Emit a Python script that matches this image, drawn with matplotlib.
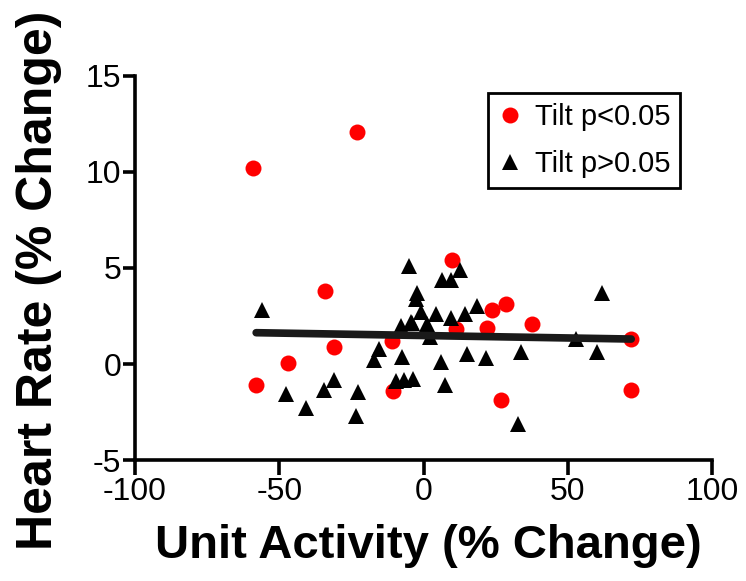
import matplotlib
matplotlib.use("Agg")
import matplotlib.pyplot as plt
import numpy as np

plt.rcParams['font.family'] = ['Liberation Sans', 'DejaVu Sans']
plt.rcParams['axes.unicode_minus'] = False

# Data
red_x = [-59, -23, -34, -31, -47, -58, -11, -10.5, 10, 23.6, 28.5, 37.6, 11.2, 22.1, 71.9, 71.8, 27.0]
red_y = [10.2, 12.1, 3.8, 0.9, 0.05, -1.1, 1.2, -1.4, 5.4, 2.8, 3.1, 2.1, 1.8, 1.9, 1.3, -1.35, -1.85]

tri_x = [-56, -5.1, -2.4, -2.5, -0.8, -4.2, -7.7, -15.5, -17.1, -7.3, -30.9, -34.6, -47.6,
         -40.6, -22.7, -23.5, -9.7, -6.6, -3.6, 12.5, 6.5, 9.6, 61.8, 18.4, 14.3, 4.2, 9.6,
         -3.9, 1.3, 2.4, 52.8, 6.1, 15.2, 21.8, 33.9, 60.1, 7.6, 32.6]
tri_y = [2.8, 5.1, 3.7, 3.4, 2.7, 2.2, 2.0, 0.8, 0.2, 0.35, -0.85, -1.35, -1.55,
         -2.3, -1.45, -2.7, -0.9, -0.85, -0.8, 4.9, 4.4, 4.35, 3.7, 3.0, 2.6, 2.6, 2.4,
         2.15, 2.1, 1.4, 1.3, 0.1, 0.5, 0.3, 0.65, 0.6, -1.1, -3.1]

fit_slope = -0.00254
fit_intercept = 1.483
fit_x_range = [-58, 72]

x_ticks = [-100, -50, 0, 50, 100]
y_ticks = [-5, 0, 5, 10, 15]

fig = plt.figure(figsize=(7.46, 5.81), dpi=100)
ax = fig.add_axes([135/746, 1-460/581, (712-135)/746, (460-76)/581])

ax.plot(red_x, red_y, 'o', color='#ff0000', markersize=11.5, markeredgewidth=0,
        label='Tilt p<0.05', zorder=3)
ax.plot(tri_x, tri_y, '^', color='black', markersize=11.5, markeredgewidth=0,
        label='Tilt p>0.05', zorder=3)
fx = np.array(fit_x_range, dtype=float)
ax.plot(fx, fit_intercept + fit_slope * fx, color='#1a1a1a', lw=5.5,
        solid_capstyle='round', zorder=4)

ax.set_xlim(-100, 100)
ax.set_ylim(-5, 15)
ax.set_xticks(x_ticks)
ax.set_yticks(y_ticks)
for s in ['top', 'right']:
    ax.spines[s].set_visible(False)
for s in ['left', 'bottom']:
    ax.spines[s].set_linewidth(2.6)
ax.tick_params(axis='both', direction='out', width=2.6, labelsize=23)
ax.tick_params(axis='x', length=11, pad=1)
ax.tick_params(axis='y', length=9, pad=1)

ax.set_xlabel('Unit Activity (% Change)', fontsize=34, fontweight='bold')
ax.xaxis.set_label_coords((428-135)/577, (57-121)/384)
ax.set_ylabel('Heart Rate (% Change)', fontsize=36, fontweight='bold')
ax.yaxis.set_label_coords((62-135)/577, (301-121)/384)

leg = ax.legend(loc='upper left', bbox_to_anchor=(488/746, 1-93/581),
                bbox_transform=fig.transFigure, borderaxespad=0, fontsize=21,
                frameon=True, fancybox=False, edgecolor='black', framealpha=1,
                handlelength=0.8, handletextpad=0.45, borderpad=0.35,
                labelspacing=0.65, numpoints=1)
leg.get_frame().set_linewidth(2.0)

fig.savefig('out.png', dpi=100, facecolor='white')
